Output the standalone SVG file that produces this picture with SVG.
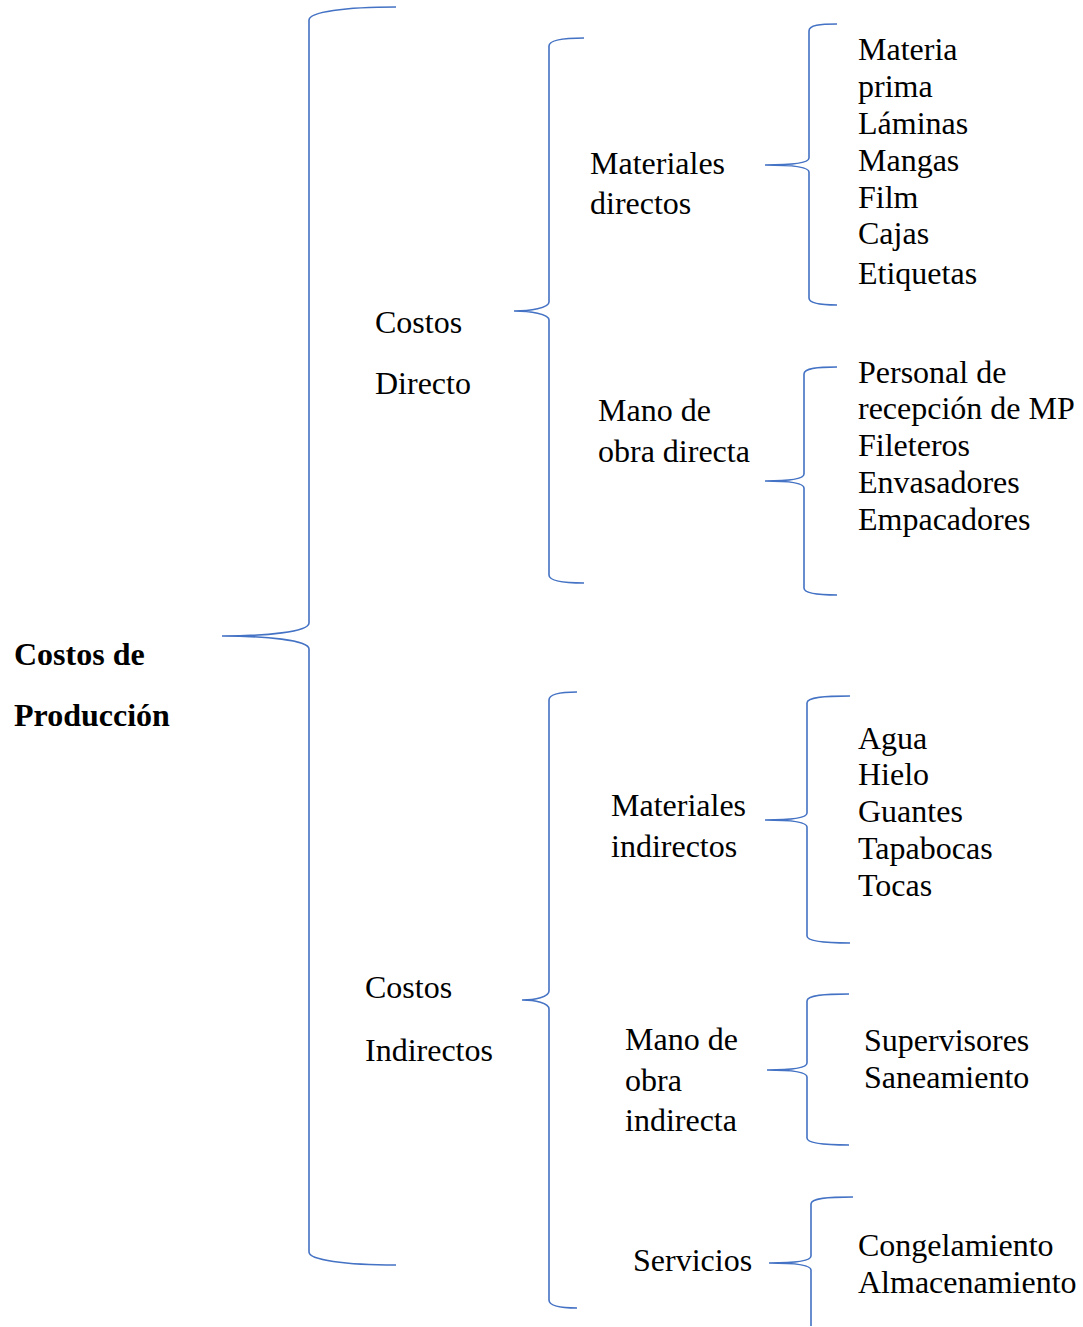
<svg xmlns="http://www.w3.org/2000/svg" width="1083" height="1327" viewBox="0 0 1083 1327">
<style>
.b{fill:none;stroke:#4472C4;stroke-width:1.6}
text{font-family:"Liberation Serif","Times New Roman",serif;font-size:32px;fill:#000}
.bold{font-weight:bold}
</style>
<rect width="1083" height="1327" fill="#fff"/>
<g id="connectors">
<path class="b" d="M396,7 C345,7 309,12 309,20 V623 C309,632 265,636 222,636 C265,636 309,640 309,649 V1252 C309,1260 345,1265 396,1265"/>
<path class="b" d="M584,38 C562,38 549,40 549,46 V302 C549,308 530,311 514,311 C530,311 549,314 549,320 V575 C549,581 562,583 584,583"/>
<path class="b" d="M577,692 C560,692 549,694 549,700 V991 C549,997 535,1000 522,1000 C535,1000 549,1003 549,1009 V1300 C549,1306 560,1308 577,1308"/>
<path class="b" d="M837,24 C820,24 809,25 809,31 V158 C809,163 790,165 765,165 C790,165 809,167 809,172 V298 C809,303 820,305 837,305"/>
<path class="b" d="M837,367 C818,367 804,368 804,374 V474 C804,479 788,481 765,481 C788,481 804,483 804,488 V588 C804,593 818,595 837,595"/>
<path class="b" d="M850,696 C825,696 807,697 807,703 V813 C807,818 790,820 765,820 C790,820 807,822 807,827 V936 C807,941 825,943 850,943"/>
<path class="b" d="M849,994 C825,994 807,995 807,1001 V1063 C807,1068 790,1070 767,1070 C790,1070 807,1072 807,1077 V1138 C807,1143 825,1145 849,1145"/>
<path class="b" d="M853,1197 C828,1197 811,1198 811,1204 V1256 C811,1261 793,1263 769,1263 C793,1263 811,1265 811,1270 V1326"/>
</g>
<g id="root"><text class="bold" x="14" y="665">Costos de</text><text class="bold" x="14" y="726">Producción</text></g>
<g id="costos-directo"><text x="375" y="333">Costos</text><text x="375" y="394">Directo</text></g>
<g id="costos-indirectos"><text x="365" y="998">Costos</text><text x="365" y="1061">Indirectos</text></g>
<g id="materiales-directos"><text x="590" y="174">Materiales</text><text x="590" y="214">directos</text></g>
<g id="mano-obra-directa"><text x="598" y="421">Mano de</text><text x="598" y="462">obra directa</text></g>
<g id="materiales-indirectos"><text x="611" y="816">Materiales</text><text x="611" y="857">indirectos</text></g>
<g id="mano-obra-indirecta"><text x="625" y="1050">Mano de</text><text x="625" y="1091">obra</text><text x="625" y="1131">indirecta</text></g>
<g id="servicios"><text x="633" y="1271">Servicios</text></g>
<g id="list-md"><text x="858" y="60">Materia</text><text x="858" y="97">prima</text><text x="858" y="134">Láminas</text><text x="858" y="171">Mangas</text><text x="858" y="208">Film</text><text x="858" y="244">Cajas</text><text x="858" y="284">Etiquetas</text></g>
<g id="list-mod"><text x="858" y="383">Personal de</text><text x="858" y="419">recepción de MP</text><text x="858" y="456">Fileteros</text><text x="858" y="493">Envasadores</text><text x="858" y="530">Empacadores</text></g>
<g id="list-mi"><text x="858" y="749">Agua</text><text x="858" y="785">Hielo</text><text x="858" y="822">Guantes</text><text x="858" y="859">Tapabocas</text><text x="858" y="896">Tocas</text></g>
<g id="list-moi"><text x="864" y="1051">Supervisores</text><text x="864" y="1088">Saneamiento</text></g>
<g id="list-serv"><text x="858" y="1256">Congelamiento</text><text x="858" y="1293">Almacenamiento</text></g>
</svg>
